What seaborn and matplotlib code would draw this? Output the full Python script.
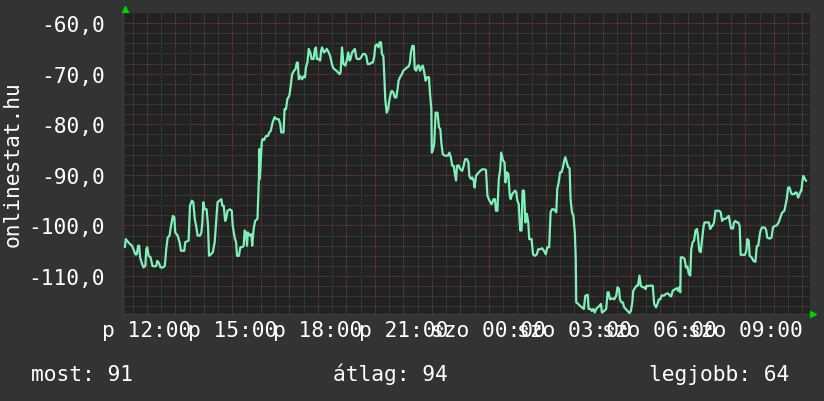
import numpy as np
import pandas as pd
import matplotlib
matplotlib.use("Agg")
import matplotlib.pyplot as plt
import seaborn as sns

# =========================================================
# DATA (minutes from Friday 12:00, rank value)
# =========================================================
minutes = [
    -46, -44, -39, -35, -31, -27, -24, -21, -18, -16,
    -14, -11, -7, -3, -1, 1, 4, 8, 12, 16,
    20, 22, 25, 29, 34, 38, 41, 44, 48, 51,
    55, 58, 60, 65, 69, 72, 79, 81, 88, 91,
    95, 98, 101, 104, 107, 112, 115, 117, 119, 122,
    126, 129, 131, 135, 139, 143, 146, 149, 153, 157,
    159, 162, 165, 167, 170, 175, 179, 181, 185, 188,
    190, 194, 197, 201, 204, 206, 209, 211, 213, 217,
    220, 222, 225, 228, 233, 236, 237,
    238, 242, 244, 247, 251, 255, 258, 261, 265, 269,
    274, 278, 281, 283, 288, 290, 293, 296, 300, 303,
    306, 310, 313, 316, 318, 320, 323, 327, 330, 333,
    335, 338, 341, 344, 347, 351, 354, 356, 358, 361,
    365, 367, 369, 373, 376, 379, 383, 386, 389, 392,
    395, 399, 402, 406, 408, 411, 414, 418, 421, 424,
    427, 429, 432, 435, 438, 441, 443, 448, 451, 455,
    459, 462, 465, 469, 473, 476, 479, 481, 484, 488,
    490, 493, 495, 498, 500, 502, 505, 508, 511, 514,
    516, 519, 522, 525, 528, 530, 533,
    537, 540, 544, 547, 551, 554, 556, 559, 562, 564,
    567, 570, 573, 575, 578, 581, 584, 587, 590, 594,
    596, 599, 600, 602, 605, 608, 612, 615, 618, 620,
    623, 627, 630, 634, 637, 640, 643, 646, 648, 651,
    653, 656, 660, 664, 667, 670, 674, 677, 679, 682,
    685, 688, 690, 693, 696, 699, 702, 706, 710, 714,
    717, 720, 723, 726, 730, 733, 735, 738, 741, 744,
    746, 750, 753, 755, 758, 761, 764, 766, 769, 772,
    775, 778, 780, 783, 786, 789, 791, 794, 797, 800,
    803, 805, 810, 813, 817, 821, 824, 828,
    832, 836, 840, 843, 847, 850, 853, 857, 862, 864,
    867, 870, 873, 876, 878, 881, 884, 887, 890, 892,
    895, 898, 901, 903, 904, 908, 912, 916, 920, 923,
    928, 930, 934, 937, 940, 943, 946, 949, 953, 956,
    958, 963, 967, 970, 972, 975, 980, 984, 988, 991,
    994, 996, 999, 1002, 1005, 1008, 1012, 1016, 1019, 1022,
    1024, 1029, 1031, 1034, 1037, 1040, 1043, 1047, 1050, 1052,
    1055, 1058, 1062, 1065, 1068, 1072, 1075, 1078, 1081, 1084,
    1088, 1092, 1096, 1099, 1102, 1104, 1107, 1112, 1116, 1118,
    1121,
    1123, 1124, 1128, 1132, 1135, 1138, 1141, 1144, 1146, 1149,
    1152, 1155, 1158, 1160, 1163, 1166, 1169, 1172, 1174, 1179,
    1183, 1186, 1189, 1191, 1194, 1197, 1201, 1205, 1208, 1211,
    1214, 1218, 1222, 1225, 1228, 1230, 1234, 1236, 1239, 1242,
    1245, 1248, 1250, 1254, 1259, 1262, 1264, 1267, 1269, 1273,
    1277, 1281, 1284, 1287, 1290, 1292, 1295, 1298, 1301, 1304,
    1306, 1311, 1315, 1318, 1322, 1326, 1330, 1333, 1337, 1342,
    1344, 1347, 1350, 1353, 1356, 1358, 1363, 1365, 1368, 1371,
    1374, 1377, 1378, 1380, 1382, 1385, 1388,
]

values = [
    -104.3, -102.7, -103.3, -103.7, -104.0, -105.0, -105.7, -105.7, -104.0, -104.0,
    -106.3, -107.3, -108.3, -108.0, -104.7, -104.3, -106.0, -106.3, -108.0, -108.1,
    -108.0, -107.0, -107.3, -108.3, -108.3, -108.0, -104.7, -102.4, -102.0, -100.1,
    -98.1, -98.4, -101.4, -102.0, -103.3, -105.0, -105.0, -103.3, -103.0, -96.1,
    -95.1, -95.4, -98.7, -100.1, -102.0, -102.0, -101.4, -99.4, -95.4, -96.8,
    -96.8, -100.1, -106.0, -105.7, -105.3, -103.3, -99.4, -95.4, -95.1, -94.8,
    -96.1, -96.1, -99.1, -98.7, -97.1, -96.8, -97.1, -100.1, -102.4, -103.3,
    -106.0, -106.0, -104.3, -104.3, -104.0, -101.0, -101.4, -104.0, -101.4, -102.0,
    -101.7, -104.0, -100.7, -99.1, -98.7, -90.8, -84.9,
    -90.8, -83.6, -82.9, -83.1, -82.3, -82.3, -81.6, -81.3, -79.6, -78.6,
    -79.0, -79.0, -80.0, -81.6, -81.6, -77.0, -77.0, -75.0, -74.4, -72.4,
    -70.1, -69.4, -69.1, -67.8, -67.8, -71.1, -70.5, -71.1, -70.5, -70.7,
    -68.8, -67.8, -65.1, -65.8, -67.1, -67.1, -65.1, -64.8, -67.1, -67.1,
    -67.4, -65.5, -64.8, -65.8, -65.5, -65.1, -65.8, -66.5, -67.8, -68.8,
    -69.1, -69.4, -69.7, -70.1, -69.7, -64.8, -68.1, -68.4, -67.4, -65.8,
    -67.4, -67.1, -65.8, -65.5, -65.1, -66.8, -67.1, -67.1, -66.8, -66.1,
    -66.1, -66.5, -68.1, -68.1, -67.8, -67.8, -66.5, -64.5, -64.2, -64.8,
    -63.8, -63.8, -66.1, -66.5, -70.4, -75.0, -77.7, -77.0, -75.0, -73.7,
    -73.4, -73.7, -74.7, -74.7, -73.0, -71.4, -70.7,
    -70.1, -69.4, -69.1, -68.8, -68.6, -67.8, -65.8, -64.5, -64.5, -69.1,
    -69.4, -68.4, -68.4, -69.4, -68.8, -68.4, -69.7, -71.4, -70.7, -70.7,
    -73.7, -77.0, -85.6, -85.2, -83.9, -77.7, -77.7, -80.6, -81.0, -83.6,
    -85.9, -86.2, -86.2, -86.2, -85.6, -86.5, -88.2, -88.2, -89.5, -91.1,
    -88.2, -88.1, -88.9, -89.2, -88.2, -86.9, -86.9, -87.5, -90.2, -90.8,
    -90.5, -91.1, -92.5, -90.2, -89.8, -89.5, -89.2, -88.9, -88.9, -89.0,
    -94.1, -94.8, -95.4, -95.8, -94.8, -94.8, -97.1, -97.1, -90.8, -88.9,
    -85.6, -87.2, -87.5, -91.5, -89.5, -89.8, -94.1, -94.8, -93.8, -93.5,
    -93.1, -93.5, -95.1, -95.8, -101.0, -101.0, -93.1, -93.1, -99.4, -97.7,
    -99.4, -102.7, -102.7, -105.7, -106.0, -105.7, -104.7, -104.7,
    -104.5, -105.0, -105.7, -104.3, -104.3, -97.4, -96.8, -96.8, -97.4, -92.8,
    -91.5, -89.5, -89.5, -88.5, -87.5, -86.5, -87.5, -88.5, -88.7, -94.8,
    -97.4, -98.1, -101.4, -106.6, -115.2, -115.5, -115.9, -116.2, -116.5, -113.9,
    -113.7, -116.5, -116.5, -116.9, -116.5, -117.2, -116.5, -116.2, -115.9, -115.5,
    -117.2, -116.9, -116.5, -113.2, -113.2, -114.6, -114.4, -114.6, -113.9, -112.2,
    -112.6, -114.6, -115.2, -115.2, -116.2, -116.5, -116.9, -117.3, -116.9, -115.2,
    -112.9, -112.2, -111.9, -111.9, -109.9, -111.9, -112.2, -112.2, -112.6, -111.9,
    -112.0, -111.9, -111.9, -111.9, -115.5, -116.2, -115.5, -114.6, -114.6, -113.8,
    -113.9, -113.6, -113.4, -113.6, -114.0, -114.0, -112.9, -112.6, -112.4, -112.9,
    -112.2,
    -113.2, -106.3, -106.3, -106.6, -108.3, -108.1, -109.6, -109.9, -104.7, -103.3,
    -103.0, -101.0, -100.7, -102.0, -105.0, -105.3, -102.7, -100.1, -99.4, -99.4,
    -99.4, -100.7, -100.1, -100.1, -99.4, -97.1, -97.1, -97.1, -97.4, -99.1,
    -98.7, -98.7, -98.4, -98.1, -99.7, -100.6, -100.6, -99.4, -99.1, -99.4,
    -99.4, -100.1, -105.8, -105.8, -105.8, -105.0, -102.7, -103.0, -106.0, -106.3,
    -107.0, -107.2, -104.1, -104.0, -102.0, -101.0, -100.4, -100.4, -100.4, -101.0,
    -102.4, -102.6, -102.4, -100.4, -100.1, -100.0, -99.4, -98.6, -97.5, -97.1,
    -96.2, -94.8, -92.5, -92.5, -93.5, -93.8, -93.8, -93.5, -93.5, -94.5,
    -93.8, -93.1, -93.1, -91.2, -90.2, -90.8, -91.2,
]

y_ticks = [-110, -100, -90, -80, -70, -60]
y_tick_labels = ["-110,0", "-100,0", "-90,0", "-80,0", "-70,0", "-60,0"]
x_ticks = [0, 180, 360, 540, 720, 900, 1080, 1260]
x_tick_labels = ["p 12:00", "p 15:00", "p 18:00", "p 21:00",
                 "szo 00:00", "szo 03:00", "szo 06:00", "szo 09:00"]
y_title = "onlinestat.hu"
footer = ["most: 91", "átlag: 94", "legjobb: 64"]

assert len(minutes) == len(values)
df = pd.DataFrame({"minute": minutes, "rank": values})

# =========================================================
# STYLE
# =========================================================
BG = "#333333"
PLOT_BG = "#222222"
MINOR = "#4a4a4a"
MAJOR = "#683636"
LINE = "#7ff0b8"
TXT = "#ffffff"
FONT = ["DejaVu Sans Mono"]
FS = 15.3

sns.set_style("dark")
plt.rcParams["font.family"] = FONT

fig = plt.figure(figsize=(8.24, 4.02), dpi=100, facecolor=BG)
W, H = 824, 402
x0, x1, y0, y1 = 123, 810, 14, 315
ax = fig.add_axes([x0 / W, 1 - y1 / H, (x1 - x0) / W, (y1 - y0) / H])
ax.set_facecolor(PLOT_BG)

ax.set_xlim(-50, 1396)
ax.set_ylim(-117.5, -58.0)

# grid: minor every 30 min / 2 units, major every hour / 10 units
dots = (0, (1, 1))
for m in np.arange(-30, 1400, 30):
    ax.axvline(m, color=MINOR, lw=0.75, ls=dots, zorder=1)
for v in np.arange(-116, -58, 2):
    ax.axhline(v, color=MINOR, lw=0.75, ls=dots, zorder=1)
for m in np.arange(0, 1400, 60):
    ax.axvline(m, color=MAJOR, lw=0.75, ls=dots, zorder=2)
for v in y_ticks:
    ax.axhline(v, color=MAJOR, lw=0.75, ls=dots, zorder=2)

sns.lineplot(data=df, x="minute", y="rank", ax=ax, color=LINE,
             linewidth=1.6, estimator=None, zorder=5)

ax.set_xticks(x_ticks, labels=x_tick_labels)
ax.set_yticks(y_ticks, labels=y_tick_labels)
ax.tick_params(axis="both", length=0, colors=TXT, labelsize=FS)
ax.tick_params(axis="y", pad=13)
ax.tick_params(axis="x", pad=4)
ax.set_xlabel("")
ax.set_ylabel("")
ax.grid(False)
for s in ["top", "right"]:
    ax.spines[s].set_visible(False)
for s in ["left", "bottom"]:
    ax.spines[s].set_color("#3d3d3d")
    ax.spines[s].set_linewidth(1.0)

# little green arrow heads at the axis ends
ax.plot([0.003], [1.012], marker="^", color="#00d000", markersize=5,
        transform=ax.transAxes, clip_on=False, zorder=6)
ax.plot([1.005], [0.0], marker=">", color="#00d000", markersize=5,
        transform=ax.transAxes, clip_on=False, zorder=6)

fig.text(13 / W, 1 - 164 / H, y_title, rotation=90, color=TXT, fontsize=FS,
         ha="center", va="center")
fig.text(31 / W, 1 - 381 / H, footer[0], color=TXT, fontsize=FS, va="baseline")
fig.text(333 / W, 1 - 381 / H, footer[1], color=TXT, fontsize=FS, va="baseline")
fig.text(649 / W, 1 - 381 / H, footer[2], color=TXT, fontsize=FS, va="baseline")

fig.savefig("out.png", dpi=100, facecolor=BG)
